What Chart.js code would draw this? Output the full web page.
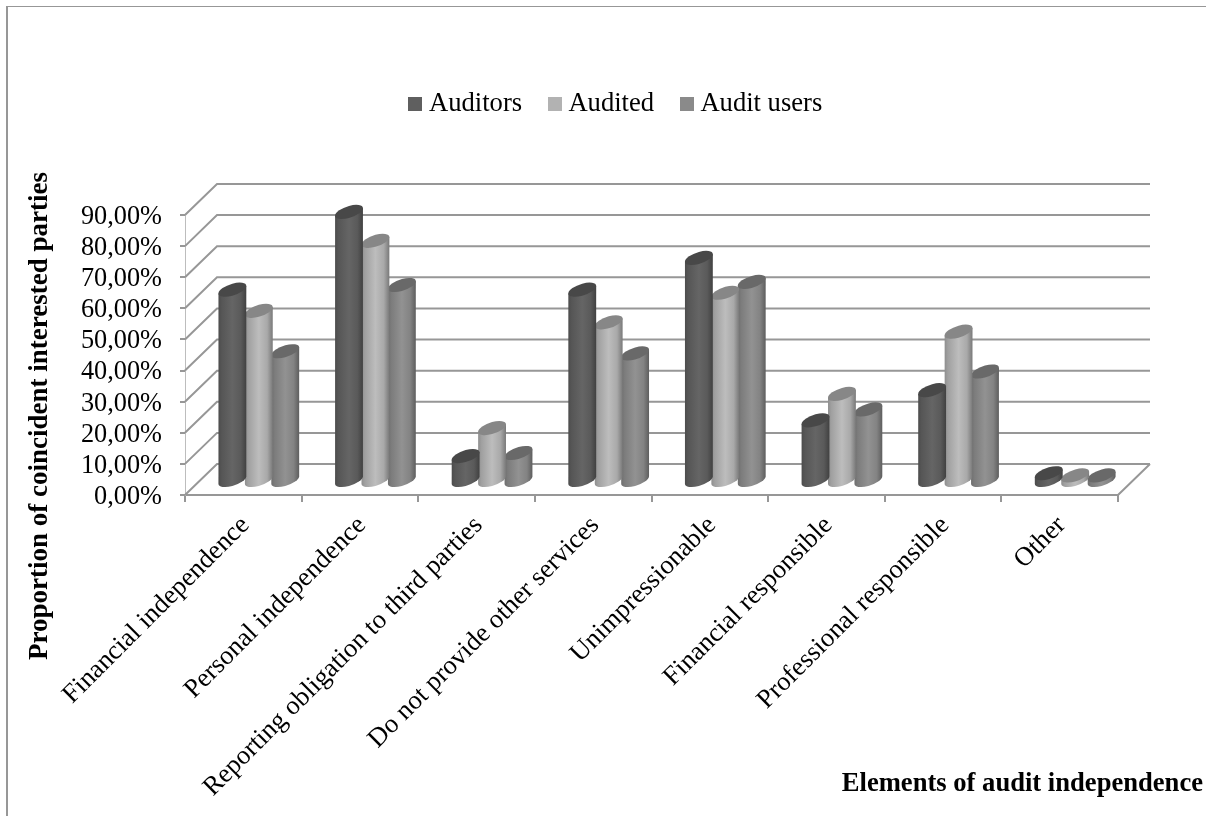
<!DOCTYPE html>
<html><head><meta charset="utf-8">
<style>html,body{margin:0;padding:0;background:#fff}canvas{display:block}</style>
<script src="https://cdn.jsdelivr.net/npm/chart.js@4"></script>
</head><body><canvas id="c" width="1206" height="816"></canvas>
<script>
const categories = ["Financial independence","Personal independence","Reporting obligation to third parties","Do not provide other services","Unimpressionable","Financial responsible","Professional responsible","Other"];
const auditors = [61.5,86.5,8,61.5,71.7,19.5,29.2,2.5];
const audited = [54.7,77.2,17,51,60.5,28,48,1.8];
const auditUsers = [41.7,63,9,41,64,23,35.2,1.8];
const seriesNames = ["Auditors","Audited","Audit users"];
const seriesColors = ["#5f5f5f","#b2b2b2","#8a8a8a"];
const yTicks = [0,10,20,30,40,50,60,70,80,90];
const xTitle = "Elements of audit independence";
const yTitle = "Proportion of coincident interested parties";

const FONT = "'Liberation Serif'";
const GRAY = "#979797";
const DEPTH_X = 32, DEPTH_Y = 31, BAR_DX = 15.5, BAR_DY = 14;

function shade(hex, f){
  const n = parseInt(hex.slice(1),16);
  const ch = s => Math.min(255, Math.round(((n>>s)&255)*f));
  return `rgb(${ch(16)},${ch(8)},${ch(0)})`;
}
// cylinder look for the library's bar element
Chart.BarElement.prototype.draw = function(ctx){
  const {x,y,base,width} = this.getProps(['x','y','base','width']);
  const c = this.options.backgroundColor;
  const rx = width/2+0.7, ry = 6, k = 0.27, h = base-y;
  ctx.save();
  ctx.translate(BAR_DX,-BAR_DY);
  ctx.transform(1,-k,0,1,x,y);
  const g = ctx.createLinearGradient(-rx,0,rx,0);
  g.addColorStop(0,shade(c,0.80));
  g.addColorStop(0.12,shade(c,0.90));
  g.addColorStop(0.5,shade(c,1.06));
  g.addColorStop(0.8,shade(c,0.95));
  g.addColorStop(1,shade(c,0.68));
  ctx.beginPath();
  ctx.moveTo(-rx,0);
  ctx.lineTo(-rx,h);
  ctx.ellipse(0,h,rx,ry,0,Math.PI,0,true);
  ctx.lineTo(rx,0);
  ctx.closePath();
  ctx.fillStyle = g;
  ctx.fill();
  ctx.beginPath();
  ctx.ellipse(0,0,rx,ry,0,0,Math.PI*2);
  ctx.fillStyle = shade(c,0.76);
  ctx.fill();
  ctx.restore();
};
function marker(color){
  const m = document.createElement('canvas');
  m.width = 14; m.height = 14;
  const mc = m.getContext('2d');
  mc.fillStyle = color; mc.fillRect(0,0,14,14);
  return m;
}
const markers = seriesColors.map(marker);

const backdrop = {
  id:'backdrop',
  beforeLayout(chart){
    const lg = chart.legend;
    if (lg && !lg._tallFit){
      const fit = lg.fit;
      lg.fit = function(){ fit.call(this); this.height = 156; };
      lg._tallFit = true;
    }
  },
  beforeDatasetsDraw(chart){
    const {ctx, scales:{x,y}} = chart;
    ctx.save();
    ctx.strokeStyle = GRAY; ctx.lineWidth = 2;
    const L = x.left, R = x.right;
    ctx.beginPath();
    yTicks.forEach(v=>{
      const p = y.getPixelForValue(v);
      ctx.moveTo(L,p);
      ctx.lineTo(L+DEPTH_X,p-DEPTH_Y);
      ctx.lineTo(R+DEPTH_X,p-DEPTH_Y);
    });
    const b = y.getPixelForValue(0);
    ctx.moveTo(R+DEPTH_X,b-DEPTH_Y);
    ctx.lineTo(R,b);
    ctx.stroke();
    ctx.restore();
  },
  afterDraw(chart){
    const {ctx} = chart;
    ctx.save();
    ctx.strokeStyle = GRAY; ctx.lineWidth = 1;
    ctx.beginPath(); ctx.moveTo(6,6.5); ctx.lineTo(1206,6.5); ctx.stroke();
    ctx.lineWidth = 2;
    ctx.beginPath(); ctx.moveTo(7,6); ctx.lineTo(7,816); ctx.stroke();
    ctx.fillStyle = '#000';
    ctx.font = `bold 26.6px ${FONT}`;
    ctx.textAlign = 'right'; ctx.textBaseline = 'middle';
    ctx.fillText(xTitle,1203,784);
    ctx.font = `bold 27px ${FONT}`;
    ctx.textAlign = 'center';
    ctx.translate(40,416); ctx.rotate(-Math.PI/2);
    ctx.fillText(yTitle,0,0);
    ctx.restore();
  }
};

new Chart(document.getElementById('c'),{
  type:'bar',
  data:{labels:categories,datasets:[
    {label:seriesNames[0],data:auditors,backgroundColor:seriesColors[0],clip:false},
    {label:seriesNames[1],data:audited,backgroundColor:seriesColors[1],clip:false},
    {label:seriesNames[2],data:auditUsers,backgroundColor:seriesColors[2],clip:false}
  ]},
  options:{
    responsive:false,animation:false,devicePixelRatio:1,
    categoryPercentage:0.68,barPercentage:1,
    layout:{padding:{left:34,right:3,top:59,bottom:0}},
    plugins:{
      tooltip:{enabled:false},
      title:{display:false},
      legend:{display:true,position:'top',labels:{
        font:{family:FONT,size:26.6},color:'#000',usePointStyle:true,pointStyleWidth:1,padding:32,
        generateLabels(chart){
          const items = Chart.defaults.plugins.legend.labels.generateLabels(chart);
          items.forEach((it,i)=>{it.pointStyle = markers[i];});
          return items;
        }
      }}
    },
    scales:{
      x:{
        afterFit(s){s.height=321;s.paddingLeft=0;s.paddingRight=88;},
        border:{color:GRAY,width:2},
        grid:{drawOnChartArea:false,drawTicks:true,tickLength:7,color:GRAY,lineWidth:2},
        ticks:{autoSkip:false,maxRotation:45,minRotation:45,padding:8,labelOffset:2,color:'#000',font:{family:FONT,size:26.6}}
      },
      y:{
        min:0,max:90,
        afterFit(s){s.width=151;s.paddingBottom=0;},
        border:{color:'#bdbdbd',width:1},
        grid:{drawOnChartArea:false,drawTicks:true,tickLength:5,color:GRAY,lineWidth:2},
        ticks:{stepSize:10,autoSkip:false,padding:18,labelOffset:2,color:'#000',font:{family:FONT,size:26.3},
          callback:v=>v.toFixed(2).replace('.',',')+'%'}
      }
    }
  },
  plugins:[backdrop]
});
</script></body></html>
